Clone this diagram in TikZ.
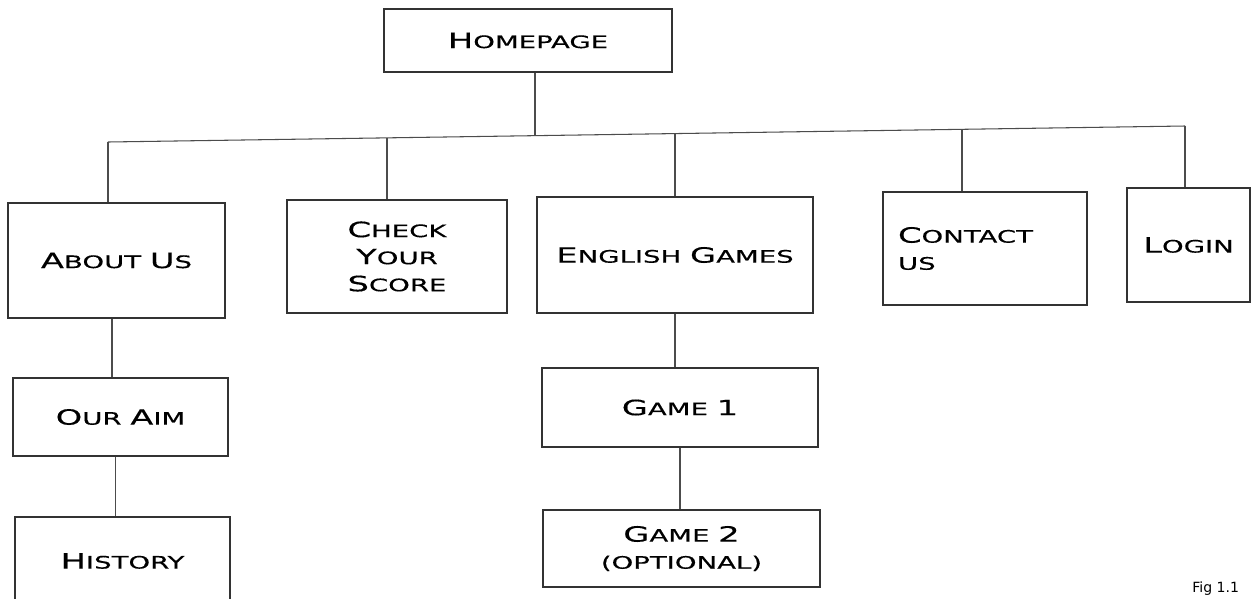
\documentclass[tikz,border=0pt]{standalone}
\usepackage{fontspec}
\newfontfamily\sitefont[FakeStretch=1.6, FakeBold=0.4]{DejaVu Sans}
\newfontfamily\figfont{DejaVu Sans}
\newcommand{\Cap}[1]{{\fontsize{12}{15.4}\selectfont #1}}
\begin{document}
\begin{tikzpicture}[x=0.2mm, y=-0.2mm,
    page/.style={rectangle, draw=black!80, line width=0.8pt,
        text centered, inner sep=0pt, text=black,
        font=\sitefont\fontsize{9.8}{15.4}\selectfont},
    link/.style={draw=black!70, line width=0.6pt}]

\clip (0,0) rectangle (1255,598);
\fill[white] (0,0) rectangle (1255,598);

\node (home) [page, minimum width=57.6mm, minimum height=12.6mm] at (528,40.5)
    {{\Cap H}OMEPAGE};

\node (about) [page, minimum width=43.4mm, minimum height=23mm] at (116.5,260.5)
    {{\Cap A}BOUT {\Cap U}S};
\node (check) [page, align=center, minimum width=44mm, minimum height=22.6mm] at (397,256.5)
    {{\Cap C}HECK\\{\Cap Y}OUR\\{\Cap S}CORE};
\node (english) [page, minimum width=55.2mm, minimum height=23.2mm] at (675,255)
    {{\Cap E}NGLISH {\Cap G}AMES};
\node (contact) [page, align=left, text width=34.8mm, inner xsep=3mm,
    minimum height=22.6mm] at (985,248.5)
    {{\Cap C}ONTACT\\US};
\node (login) [page, minimum width=24.6mm, minimum height=22.8mm] at (1188.5,245)
    {{\Cap L}OGIN};

\node (aim) [page, minimum width=43mm, minimum height=15.6mm] at (120.5,417)
    {{\Cap O}UR {\Cap A}IM};
\node (history) [page, minimum width=43mm, minimum height=17.6mm] at (122.5,561)
    {{\Cap H}ISTORY};

\node (game1) [page, minimum width=55.2mm, minimum height=15.8mm] at (680,407.5)
    {{\Cap G}AME {\Cap 1}};
\node (game2) [page, align=center, minimum width=55.4mm, minimum height=15.4mm] at (681.5,548.5)
    {{\Cap G}AME {\Cap 2}\\(OPTIONAL)};

\node (fig) [anchor=south west, inner sep=0pt, font=\figfont\fontsize{8}{9}\selectfont]
    at (1192,596) {Fig 1.1};

% bus under the homepage
\coordinate (jAbout) at (108,142);
\coordinate (jCheck) at (387,138);
\coordinate (jHome) at (535,135.7);
\coordinate (jEnglish) at (675,133.6);
\coordinate (jContact) at (962,129.3);
\coordinate (jLogin) at (1185,126);

\draw[link] (jAbout) -- (jLogin);
\draw[link] (jHome |- home.south) -- (jHome);
\draw[link] (jAbout) -- (jAbout |- about.north);
\draw[link] (jCheck) -- (jCheck |- check.north);
\draw[link] (jEnglish) -- (jEnglish |- english.north);
\draw[link] (jContact) -- (jContact |- contact.north);
\draw[link] (jLogin) -- (jLogin |- login.north);

\draw[link] ([xshift=-0.9mm]about.south) -- ([xshift=-0.9mm]about.south |- aim.north);
\draw[link] ([xshift=-1mm]aim.south) -- ([xshift=-1mm]aim.south |- history.north);
\draw[link] (english.south) -- (english.south |- game1.north);
\draw[link] (game1.south) -- (game1.south |- game2.north);

\end{tikzpicture}
\end{document}
